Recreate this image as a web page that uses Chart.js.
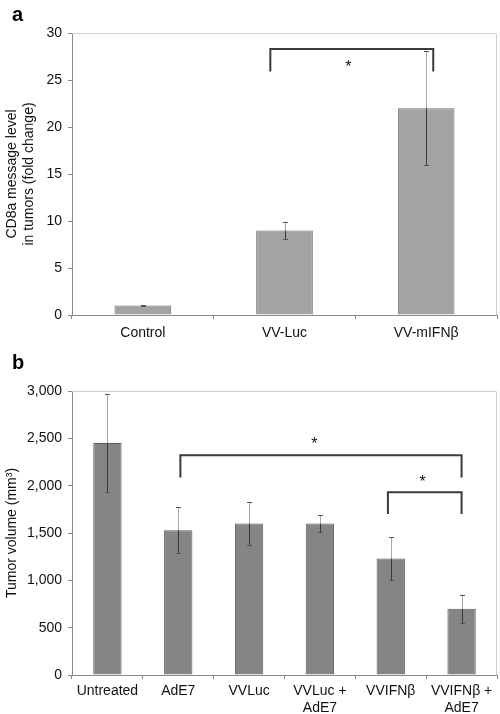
<!DOCTYPE html>
<html>
<head>
  <title>CD8a and tumor volume</title>
  <script src="https://cdn.jsdelivr.net/npm/chart.js"></script>
  <style>
    body { margin: 0; background: #fff; }
    canvas { display: block; }
  </style>
  <script>
    // panel a
    const categoriesA = ['Control', 'VV-Luc', 'VV-mIFNβ'];
    const cd8Values = [1.0, 9.0, 22.0];
    const cd8Errors = [0.05, 0.9, 6.05];
    const ticksA = [0, 5, 10, 15, 20, 25, 30];
    // bracket: category index from/to (fractional), value top/bottom, star at
    const bracketsA = [
      { from: 0.9, to: 2.05, top: 28.3, bottom: 25.9, starAt: 1.45, starValue: 26.6 }
    ];

    // panel b
    const categoriesB = ['Untreated', 'AdE7', 'VVLuc', ['VVLuc +', 'AdE7'], 'VVIFNβ', ['VVIFNβ +', 'AdE7']];
    const volumeValues = [2450, 1530, 1600, 1600, 1230, 700];
    const volumeErrors = [520, 245, 228, 90, 228, 150];
    const ticksB = [0, 500, 1000, 1500, 2000, 2500, 3000];
    const bracketsB = [
      { from: 1.03, to: 5.0, top: 2320, bottom: 2085, starAt: 2.92, starValue: 2470 },
      { from: 3.96, to: 5.0, top: 1930, bottom: 1700, starAt: 4.45, starValue: 2060 }
    ];

    const FONT = "'Liberation Sans', Arial, sans-serif";
    const AXIS = '#8a8a8a';

    function extras(errors, brackets, label, labelY) {
      return {
        id: 'extras',
        beforeDatasetsDraw(chart) {
          const ctx = chart.ctx, a = chart.chartArea;
          ctx.save();
          ctx.strokeStyle = '#d0d0d0';
          ctx.lineWidth = 1;
          ctx.beginPath();
          ctx.moveTo(a.left, a.top + 0.5);
          ctx.lineTo(a.right - 0.5, a.top + 0.5);
          ctx.lineTo(a.right - 0.5, a.bottom);
          ctx.stroke();
          ctx.restore();
        },
        afterDatasetsDraw(chart) {
          const ctx = chart.ctx;
          const xs = chart.scales.x, ys = chart.scales.y;
          const values = chart.data.datasets[0].data;
          ctx.save();
          ctx.lineWidth = 1;
          chart.getDatasetMeta(0).data.forEach((bar, i) => {
            const x = Math.round(bar.x) + 0.5;
            const yTop = ys.getPixelForValue(values[i] + errors[i]);
            const yBot = ys.getPixelForValue(values[i] - errors[i]);
            const yBar = ys.getPixelForValue(values[i]);
            ctx.strokeStyle = '#a8a8a8';
            ctx.beginPath();
            ctx.moveTo(x, yTop);
            ctx.lineTo(x, yBar);
            ctx.stroke();
            ctx.strokeStyle = '#3a3a3a';
            ctx.beginPath();
            ctx.moveTo(x, yBar);
            ctx.lineTo(x, yBot);
            ctx.stroke();
            ctx.strokeStyle = '#555';
            ctx.beginPath();
            ctx.moveTo(x - 2.5, Math.round(yTop) + 0.5);
            ctx.lineTo(x + 2.5, Math.round(yTop) + 0.5);
            ctx.moveTo(x - 2.5, Math.round(yBot) + 0.5);
            ctx.lineTo(x + 2.5, Math.round(yBot) + 0.5);
            ctx.stroke();
          });

          ctx.strokeStyle = '#3a3a3a';
          ctx.lineWidth = 2;
          ctx.fillStyle = '#111';
          ctx.font = '16px ' + FONT;
          ctx.textAlign = 'center';
          ctx.textBaseline = 'middle';
          brackets.forEach(b => {
            const x1 = xs.getPixelForValue(b.from);
            const x2 = xs.getPixelForValue(b.to);
            const yt = ys.getPixelForValue(b.top);
            const yb = ys.getPixelForValue(b.bottom);
            ctx.beginPath();
            ctx.moveTo(x1, yb);
            ctx.lineTo(x1, yt);
            ctx.lineTo(x2, yt);
            ctx.lineTo(x2, yb);
            ctx.stroke();
            ctx.fillText('*', xs.getPixelForValue(b.starAt), ys.getPixelForValue(b.starValue) + 3);
          });

          ctx.font = 'bold 20px ' + FONT;
          ctx.textAlign = 'left';
          ctx.textBaseline = 'alphabetic';
          ctx.fillStyle = '#000';
          ctx.fillText(label, 12, labelY);
          ctx.restore();
        }
      };
    }

    function makeChart(id, labels, values, errors, brackets, opts) {
      const ctx = document.getElementById(id).getContext('2d');
      return new Chart(ctx, {
        type: 'bar',
        data: {
          labels: labels,
          datasets: [{
            data: values,
            backgroundColor: opts.fill,
            borderColor: opts.border,
            borderWidth: 1,
            categoryPercentage: 1,
            barPercentage: 0.4
          }]
        },
        options: {
          responsive: false,
          devicePixelRatio: 1,
          animation: false,
          layout: { padding: { top: opts.top, right: 3, left: 0, bottom: 0 } },
          plugins: { legend: { display: false }, tooltip: { enabled: false } },
          scales: {
            x: {
              grid: { display: true, drawOnChartArea: false, drawTicks: true, tickLength: 4, color: AXIS, offset: true },
              border: { color: AXIS },
              ticks: { color: '#111', padding: opts.xPad, maxRotation: 0, autoSkip: false,
                       font: { family: FONT, size: 14, lineHeight: 1.2 } },
              afterFit: s => { s.height = opts.xHeight; }
            },
            y: {
              min: 0,
              max: opts.max,
              afterBuildTicks: s => { s.ticks = opts.ticks.map(v => ({ value: v })); },
              grid: { display: true, drawOnChartArea: false, drawTicks: true, tickLength: 4, color: AXIS },
              border: { color: AXIS },
              ticks: { color: '#111', padding: 6, font: { family: FONT, size: 14 },
                       callback: v => v.toLocaleString('en-US') },
              title: { display: true, text: opts.title, color: '#111',
                       padding: { top: opts.titlePad, bottom: 0 },
                       font: { family: FONT, size: 14, lineHeight: 1.2 } },
              afterFit: s => { s.width = 72; }
            }
          }
        },
        plugins: [extras(errors, brackets, opts.label, opts.labelY)]
      });
    }

    window.onload = function() {
      makeChart('chartA', categoriesA, cd8Values, cd8Errors, bracketsA, {
        fill: '#a3a3a3', border: '#727272', top: 33, max: 30, ticks: ticksA,
        title: ['CD8a message level', 'in tumors (fold change)'], titlePad: 4,
        xHeight: 25, xPad: 6, label: 'a', labelY: 21
      });
      makeChart('chartB', categoriesB, volumeValues, volumeErrors, bracketsB, {
        fill: '#858585', border: '#5e5e5e', top: 51, max: 3000, ticks: ticksB,
        title: 'Tumor volume (mm³)', titlePad: 4,
        xHeight: 39, xPad: 4, label: 'b', labelY: 29
      });
    };
  </script>
</head>
<body>
<canvas id="chartA" width="500" height="340"></canvas>
<canvas id="chartB" width="500" height="374"></canvas>
</body>
</html>
